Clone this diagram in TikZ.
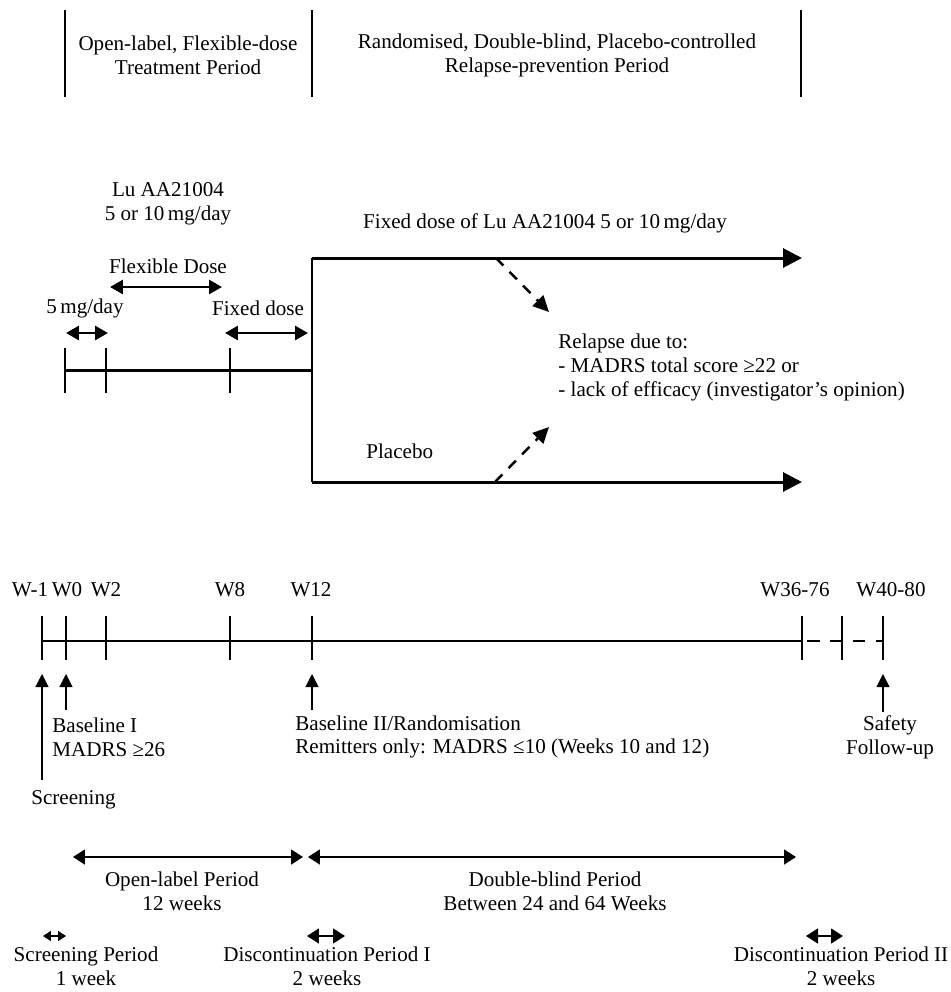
\documentclass[tikz,border=0pt]{standalone}
\usepackage{fontspec}
\setmainfont{Liberation Serif}
\usepackage{tikz}
\usetikzlibrary{arrows.meta}
\usetikzlibrary{positioning}
\tikzset{
    lbl/.style={
        font=\fontsize{12}{13.6}\selectfont,
        inner sep=0pt,
        align=center
    },
    bar/.style={line width=1.7pt},
    axis/.style={line width=1.3pt},
    branch/.style={
        line width=1.7pt,
        -{Triangle[length=3.8mm, width=3.8mm]}
    },
    relapse/.style={
        line width=1.4pt,
        dash pattern=on 6pt off 5pt,
        -{Triangle[length=3.2mm, width=3mm]}
    },
    span/.style={
        line width=1.6pt,
        {Triangle[length=2.6mm, width=2.8mm]}-{Triangle[length=2.6mm, width=2.8mm]}
    },
    period/.style={
        line width=1pt,
        {Triangle[length=2.4mm, width=3mm]}-{Triangle[length=2.4mm, width=3mm]}
    },
    pointer/.style={
        line width=0.6pt,
        -{Triangle[length=2.6mm, width=2.6mm]}
    }
}

\begin{document}
\begin{tikzpicture}[x=0.02cm, y=-0.02cm]
  \useasboundingbox (0,0) rectangle (951,992);

  % Header bars and titles
  \foreach \x/\n in {65/a,312/b,801/c} {
    \coordinate (h\n1) at (\x,10);
    \coordinate (h\n2) at (\x,97);
    \draw[bar] (h\n1) -- (h\n2);
  }
  \node[lbl] (openhdr) at (188,55) {Open-label, Flexible-dose\\Treatment Period};
  \node[lbl] (dbhdr) at (557,55) {Randomised, Double-blind, Placebo-controlled\\Relapse-prevention Period};

  % Open-label treatment
  \node[lbl] (drug) at (168,204) {Lu AA21004\\5 or 10\,mg/day};
  \node[lbl] (flex) at (168,266) {Flexible Dose};
  \node[lbl] (start) at (85,308) {5\,mg/day};
  \node[lbl] (fixed) at (258,308) {Fixed dose};
  \coordinate (flexL) at (110,287);
  \coordinate (flexR) at (222,287);
  \coordinate (startL) at (66,333);
  \coordinate (startR) at (108,333);
  \coordinate (fixL) at (225,333);
  \coordinate (fixR) at (308,333);
  \draw[span] (flexL) -- (flexR);
  \draw[span] (startL) -- (startR);
  \draw[span] (fixL) -- (fixR);

  % Upper time line
  \foreach \x/\n in {65/1,106/2,230/3} {
    \coordinate (u\n a) at (\x,348);
    \coordinate (u\n b) at (\x,393);
    \draw[bar] (u\n a) -- (u\n b);
  }
  \coordinate (uL) at (65,370);
  \coordinate (uR) at (312,370);
  \draw[bar] (uL) -- (uR);

  % Randomisation branches
  \coordinate (rTop) at (312,258);
  \coordinate (rBot) at (312,482);
  \coordinate (aTop) at (802,258);
  \coordinate (aBot) at (802,482);
  \draw[bar] (rTop) -- (rBot);
  \draw[branch] (rTop) -- (aTop);
  \draw[branch] (rBot) -- (aBot);
  \node[lbl] (active) at (545,223) {Fixed dose of Lu AA21004 5 or 10\,mg/day};
  \node[lbl, anchor=west] (placebo) at (366,451) {Placebo};
  \node[lbl, anchor=north west, align=left] (relapse) at (558,334)
    {Relapse due to:\\- MADRS total score ≥22 or\\- lack of efficacy (investigator’s opinion)};
  \coordinate (dTop) at (496,258);
  \coordinate (dBot) at (495,482);
  \coordinate (eTop) at (549,312);
  \coordinate (eBot) at (549,427);
  \draw[relapse] (dTop) -- (eTop);
  \draw[relapse] (dBot) -- (eBot);

  % Lower time line
  \foreach \x/\n in {42/1,66/2,106/3,230/4,312/5,802/6,842/7,883/8} {
    \coordinate (t\n a) at (\x,616);
    \coordinate (t\n b) at (\x,660);
    \draw[bar] (t\n a) -- (t\n b);
  }
  \coordinate (tL) at (42,641);
  \coordinate (tM) at (802,641);
  \coordinate (tR) at (883,641);
  \draw[axis] (tL) -- (tM);
  \draw[axis, dash pattern=on 7pt off 6pt, dash phase=-3pt] (tM) -- (tR);
  \foreach \x/\t/\n in {30/W-1/wa,67/W0/wb,106/W2/wc,230/W8/wd,311/W12/we,795/W36-76/wf,891/W40-80/wg}
    \node[lbl] (\n) at (\x,590) {\t};

  % Visit pointers
  \coordinate (pScr) at (42,780);
  \coordinate (pScrT) at (42,674);
  \coordinate (pBl) at (66,710);
  \coordinate (pBlT) at (66,674);
  \coordinate (pRnd) at (312,710);
  \coordinate (pRndT) at (312,674);
  \coordinate (pSaf) at (883,712);
  \coordinate (pSafT) at (883,674);
  \draw[pointer] (pScr) -- (pScrT);
  \draw[pointer] (pBl) -- (pBlT);
  \draw[pointer] (pRnd) -- (pRndT);
  \draw[pointer] (pSaf) -- (pSafT);
  \node[lbl, anchor=west, align=left] (base1) at (52,737) {Baseline I\\MADRS ≥26};
  \node[lbl, anchor=west] (screen) at (31,800) {Screening};
  \node[lbl, anchor=west, align=left] (base2) at (295,737)
    {Baseline II/Randomisation\\Remitters only: MADRS ≤10 (Weeks 10 and 12)};
  \node[lbl] (safety) at (890,737) {Safety\\Follow-up};

  % Study periods
  \coordinate (olL) at (73,857);
  \coordinate (olR) at (303,857);
  \coordinate (dbL) at (308,857);
  \coordinate (dbR) at (796,857);
  \draw[period] (olL) -- (olR);
  \draw[period] (dbL) -- (dbR);
  \node[lbl] (olper) at (182,891) {Open-label Period\\12 weeks};
  \node[lbl] (dbper) at (555,891) {Double-blind Period\\Between 24 and 64 Weeks};

  \coordinate (sL) at (43,936);
  \coordinate (sR) at (66,936);
  \coordinate (d1L) at (307,936);
  \coordinate (d1R) at (345,936);
  \coordinate (d2L) at (806,936);
  \coordinate (d2R) at (843,936);
  \draw[line width=0.8pt, {Triangle[length=1.6mm, width=2mm]}-{Triangle[length=1.6mm, width=2mm]}] (sL) -- (sR);
  \draw[period] (d1L) -- (d1R);
  \draw[period] (d2L) -- (d2R);
  \node[lbl] (scrper) at (86,966) {Screening Period\\1 week};
  \node[lbl] (dc1) at (327,966) {Discontinuation Period I\\2 weeks};
  \node[lbl] (dc2) at (841,966) {Discontinuation Period II\\2 weeks};
\end{tikzpicture}
\end{document}
